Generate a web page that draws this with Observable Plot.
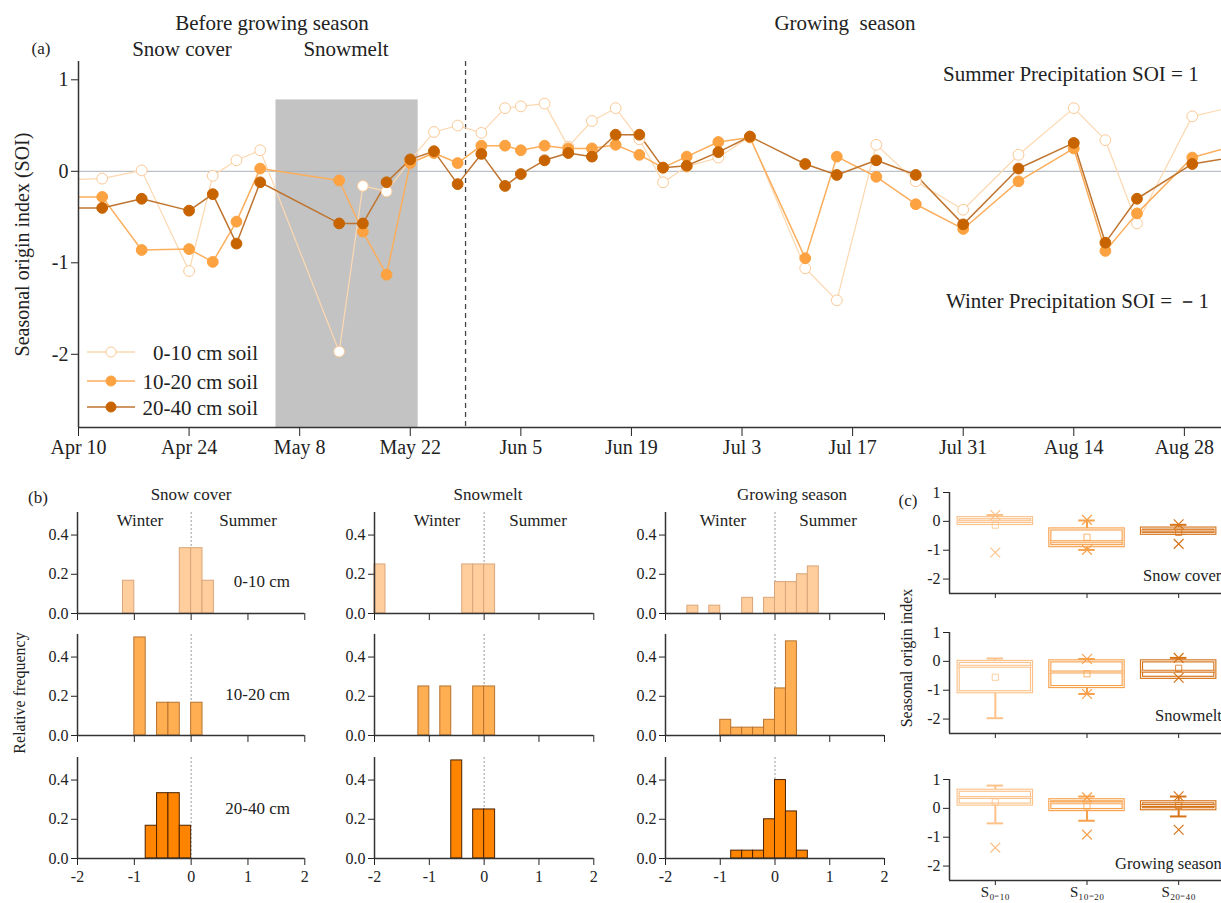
<!DOCTYPE html>
<html><head><meta charset="utf-8">
<script src="https://cdn.jsdelivr.net/npm/d3@7"></script>
<script src="https://cdn.jsdelivr.net/npm/@observablehq/plot@0.6"></script>
<style>
body{margin:0;background:#fff;}
#root{position:relative;width:1221px;height:903px;overflow:hidden;font-family:'Liberation Serif','Times New Roman',serif;color:#222;}
.t{position:absolute;white-space:pre;line-height:1;}
</style></head><body><div id="root"></div>
<script>
// ---------- DATA: panel (a) ----------
const sampleDates = ["2015-04-09","2015-04-13","2015-04-18","2015-04-24","2015-04-27","2015-04-30","2015-05-03","2015-05-13","2015-05-16","2015-05-19","2015-05-22","2015-05-25","2015-05-28","2015-05-31","2015-06-03","2015-06-05","2015-06-08","2015-06-11","2015-06-14","2015-06-17","2015-06-20","2015-06-23","2015-06-26","2015-06-30","2015-07-04","2015-07-11","2015-07-15","2015-07-20","2015-07-25","2015-07-31","2015-08-07","2015-08-14","2015-08-18","2015-08-22","2015-08-29","2015-09-03"];
const soi0_10  = [-0.09,-0.08,0.01,-1.09,-0.05,0.12,0.23,-1.97,-0.16,-0.22,0.12,0.43,0.50,0.42,0.69,0.71,0.74,0.27,0.55,0.69,0.35,-0.12,0.05,0.15,0.38,-1.06,-1.41,0.29,-0.11,-0.42,0.18,0.69,0.34,-0.57,0.60,0.70];
const soi10_20 = [-0.28,-0.28,-0.86,-0.85,-0.99,-0.55,0.03,-0.10,-0.66,-1.13,0.09,0.20,0.09,0.28,0.28,0.23,0.28,0.25,0.25,0.29,0.18,0.04,0.16,0.32,0.37,-0.95,0.16,-0.06,-0.36,-0.63,-0.11,0.25,-0.87,-0.46,0.15,0.27];
const soi20_40 = [-0.40,-0.40,-0.30,-0.43,-0.25,-0.79,-0.12,-0.57,-0.57,-0.12,0.13,0.22,-0.14,0.19,-0.16,-0.03,0.12,0.20,0.16,0.40,0.40,0.04,0.06,0.21,0.38,0.08,-0.04,0.12,-0.04,-0.58,0.03,0.31,-0.78,-0.30,0.08,0.15];
const seriesNames = ["0-10 cm soil","10-20 cm soil","20-40 cm soil"];
const xTickDates = ["2015-04-10","2015-04-24","2015-05-08","2015-05-22","2015-06-05","2015-06-19","2015-07-03","2015-07-17","2015-07-31","2015-08-14","2015-08-28"];
const yTicksA = [-2,-1,0,1];
const snowmeltPeriod = ["2015-05-05","2015-05-23"];
const snowmeltShadeTop = 0.78;
const growingStart = "2015-05-29";
const xDomainA = [new Date("2015-04-10"), new Date(Date.UTC(2015,3,10) + 144.7*864e5)];
const yDomainA = [-2.8, 1.2];

// ---------- DATA: panel (b) histograms (bin left edges, width 0.2) ----------
const binWidth = 0.2;
const scBins_0_10 = [-1.2,-0.2,0.0,0.2],            scFreq_0_10 = [0.167,0.333,0.333,0.167];
const scBins_10_20 = [-1.0,-0.6,-0.4,0.0],          scFreq_10_20 = [0.5,0.167,0.167,0.167];
const scBins_20_40 = [-0.8,-0.6,-0.4,-0.2],         scFreq_20_40 = [0.167,0.333,0.333,0.167];
const smBins_0_10 = [-2.0,-0.4,-0.2,0.0],           smFreq_0_10 = [0.25,0.25,0.25,0.25];
const smBins_10_20 = [-1.2,-0.8,-0.2,0.0],          smFreq_10_20 = [0.25,0.25,0.25,0.25];
const smBins_20_40 = [-0.6,-0.2,0.0],               smFreq_20_40 = [0.5,0.25,0.25];
const gsBins_0_10 = [-1.6,-1.2,-0.6,-0.2,0.0,0.2,0.4,0.6], gsFreq_0_10 = [0.04,0.04,0.08,0.08,0.16,0.16,0.20,0.24];
const gsBins_10_20 = [-1.0,-0.8,-0.6,-0.4,-0.2,0.0,0.2],   gsFreq_10_20 = [0.08,0.04,0.04,0.04,0.08,0.24,0.48];
const gsBins_20_40 = [-0.8,-0.6,-0.4,-0.2,0.0,0.2,0.4],    gsFreq_20_40 = [0.04,0.04,0.04,0.20,0.40,0.24,0.04];
const histTitles = ["Snow cover","Snowmelt","Growing season"];
const depthLabels = ["0-10 cm","10-20 cm","20-40 cm"];

// ---------- DATA: panel (c) box plots ----------
const boxGroups = ["S₀₋₁₀","S₁₀₋₂₀","S₂₀₋₄₀"];
const scQ1 = [-0.09,-0.86,-0.43], scQ3 = [0.11,-0.28,-0.25], scMed = [0.0,-0.71,-0.33], scLo = [-0.09,-0.99,-0.43], scHi = [0.22,0.03,-0.12], scMean = [-0.13,-0.55,-0.38];
const scXGroup = [0,0,1,1,2,2], scXVal = [-1.08,0.22,0.05,-0.99,-0.10,-0.78];
const smQ1 = [-1.07,-0.89,-0.57], smQ3 = [-0.02,0.0,0.0], smMed = [-0.17,-0.37,-0.34], smLo = [-1.97,-1.13,-0.57], smHi = [0.10,0.08,0.12], smMean = [-0.55,-0.43,-0.24];
const smXGroup = [1,1,2,2], smXVal = [0.08,-1.13,0.12,-0.57];
const gsQ1 = [0.13,-0.06,-0.03], gsQ3 = [0.61,0.28,0.21], gsMed = [0.38,0.19,0.10], gsLo = [-0.52,-0.43,-0.28], gsHi = [0.79,0.41,0.41], gsMean = [0.22,0.08,0.10];
const gsXGroup = [0,1,1,2,2], gsXVal = [-1.36,0.38,-0.91,0.42,-0.74];
const boxPanelNames = ["Snow cover","Snowmelt","Growing season"];

// ---------- STYLE ----------
const FONT = "'Liberation Serif','Times New Roman',serif";
const lineColors = ["#FDD8B0","#FBAE5C","#BF7530"];
const dotFill = ["#FFFFFF","#FCA241","#C86400"];
const dotStroke = ["#FBC996","#FCA241","#C86400"];
const histFill = ["#FFCE9C","#FFAE52","#FF8400"];
const histStroke = ["#D9A57A","#B8732E","#4A2200"];
const boxColors = ["#FCC28A","#F8A14C","#D6741A"];
const root = document.getElementById("root");

function place(el, left, top) {
  el.style.position = "absolute"; el.style.left = left + "px"; el.style.top = top + "px";
  root.appendChild(el);
}
function txt(s, x, y, size, anchor = "middle", rotate = false) {
  const d = document.createElement("div");
  d.className = "t"; d.textContent = s; d.style.fontSize = size + "px";
  d.style.left = x + "px"; d.style.top = y + "px";
  const tx = anchor === "middle" ? "-50%" : anchor === "end" ? "-100%" : "0";
  d.style.transform = `translate(${tx},-50%)` + (rotate ? " rotate(-90deg)" : "");
  root.appendChild(d);
}
const svgStyle = {fontFamily: FONT, color: "#222", background: "none", overflow: "visible"};

// ---------- PANEL (a) ----------
const allSeries = [soi0_10, soi10_20, soi20_40];
const rowsA = allSeries.map(vals => sampleDates.map((d, i) => ({date: new Date(d), v: vals[i]})));
const shade = [{x1: new Date(snowmeltPeriod[0]), x2: new Date(snowmeltPeriod[1])}];
const marksA = [
  Plot.rect(shade, {x1: "x1", x2: "x2", y1: yDomainA[0], y2: snowmeltShadeTop, fill: "#c3c3c3"}),
  Plot.ruleY([0], {stroke: "#aab0b8", strokeWidth: 1}),
  Plot.ruleX([new Date(growingStart)], {stroke: "#444", strokeDasharray: "5,4", strokeWidth: 1.3})
];
rowsA.forEach((rows, k) => {
  marksA.push(Plot.line(rows, {x: "date", y: "v", stroke: lineColors[k], strokeWidth: k === 0 ? 1.2 : 1.5, clip: true}));
});
rowsA.forEach((rows, k) => {
  marksA.push(Plot.dot(rows, {x: "date", y: "v", r: 5.4, fill: dotFill[k], stroke: dotStroke[k], strokeWidth: 1, clip: true}));
});
marksA.push(
  Plot.axisX({ticks: xTickDates.map(d => new Date(d)), tickFormat: d3.utcFormat("%b %-d"), tickSize: 9, tickPadding: 3, fontSize: 20, label: null}),
  Plot.axisY({ticks: yTicksA, tickFormat: d => String(d), tickSize: 7, tickPadding: 3, fontSize: 20,
    label: "Seasonal origin index (SOI)", labelAnchor: "center", labelOffset: 64, labelArrow: "none"}),
  Plot.ruleX([xDomainA[0]], {stroke: "#333", strokeWidth: 1.5}),
  Plot.ruleY([yDomainA[0]], {stroke: "#333", strokeWidth: 1.5})
);
const plotA = Plot.plot({
  width: 1221, height: 465, marginLeft: 78, marginRight: 0, marginTop: 61, marginBottom: 38,
  style: svgStyle,
  x: {type: "utc", domain: xDomainA},
  y: {domain: yDomainA},
  marks: marksA
});
place(plotA, 0, 0);

txt("Before growing season", 272, 23, 21);
txt("Growing  season", 845, 23, 21);
txt("(a)", 41, 48, 17);
txt("Snow cover", 182, 49, 21);
txt("Snowmelt", 346, 49, 21);
txt("Summer Precipitation SOI = 1", 943, 74, 21, "start");
txt("Winter Precipitation SOI = －1", 946, 301, 21, "start");

// legend
const legendY = [352, 381, 407];
seriesNames.forEach((name, k) => {
  const ns = "http://www.w3.org/2000/svg";
  const s = document.createElementNS(ns, "svg");
  s.setAttribute("width", 50); s.setAttribute("height", 14);
  const l = document.createElementNS(ns, "line");
  l.setAttribute("x1", 0); l.setAttribute("x2", 48); l.setAttribute("y1", 7); l.setAttribute("y2", 7);
  l.setAttribute("stroke", lineColors[k]); l.setAttribute("stroke-width", 1.5);
  const c = document.createElementNS(ns, "circle");
  c.setAttribute("cx", 24); c.setAttribute("cy", 7); c.setAttribute("r", 5);
  c.setAttribute("fill", dotFill[k]); c.setAttribute("stroke", dotStroke[k]);
  s.appendChild(l); s.appendChild(c);
  place(s, 87, legendY[k] - 7);
  txt(name, 258, legendY[k] + 1, 21, "end");
});

// ---------- PANEL (b) ----------
const colLeft = [76.7, 374, 665], colW = [227.3, 219.3, 219];
const rowTop = [511.7, 634, 756.7], histH = 101;
const histBins = [[scBins_0_10, scBins_10_20, scBins_20_40],[smBins_0_10, smBins_10_20, smBins_20_40],[gsBins_0_10, gsBins_10_20, gsBins_20_40]];
const histFreq = [[scFreq_0_10, scFreq_10_20, scFreq_20_40],[smFreq_0_10, smFreq_10_20, smFreq_20_40],[gsFreq_0_10, gsFreq_10_20, gsFreq_20_40]];
for (let col = 0; col < 3; col++) {
  for (let row = 0; row < 3; row++) {
    const bins = histBins[col][row].map((b, i) => ({x1: b, x2: b + binWidth, f: histFreq[col][row][i]}));
    const mL = 45, mR = 12, mT = 2, mB = 30;
    const p = Plot.plot({
      width: mL + colW[col] + mR, height: mT + histH + mB,
      marginLeft: mL, marginRight: mR, marginTop: mT, marginBottom: mB,
      style: svgStyle,
      x: {domain: [-2, 2]},
      y: {domain: [0, 0.515]},
      marks: [
        Plot.ruleX([0], {stroke: "#999", strokeDasharray: "2,2", strokeWidth: 1}),
        Plot.rectY(bins, {x1: "x1", x2: "x2", y1: 0, y2: "f", fill: histFill[row], stroke: histStroke[row], strokeWidth: 1}),
        Plot.axisY({ticks: [0, 0.2, 0.4], tickFormat: d3.format(".1f"), tickSize: 6, tickPadding: 3, fontSize: 16, label: null}),
        Plot.axisX({ticks: [-2, -1, 0, 1, 2], tickFormat: row === 2 ? (d => String(d)) : (() => ""), tickSize: 7, tickPadding: 5, fontSize: 16, label: null}),
        Plot.ruleY([0], {stroke: "#333", strokeWidth: 1.5}),
        Plot.ruleX([-2], {stroke: "#333", strokeWidth: 1.5})
      ]
    });
    place(p, colLeft[col] - mL, rowTop[row] - mT);
  }
}
txt("(b)", 38, 497, 17);
const histTitleX = [191, 488, 792];
histTitles.forEach((t, i) => txt(t, histTitleX[i], 494, 17));
const winterX = [140, 437, 723], summerX = [248, 538, 828];
for (let i = 0; i < 3; i++) { txt("Winter", winterX[i], 520, 17); txt("Summer", summerX[i], 520, 17); }
const depthY = [581, 694, 808];
depthLabels.forEach((t, i) => txt(t, 290, depthY[i], 17, "end"));
txt("Relative frequency", 20, 693, 16, "middle", true);

// ---------- PANEL (c) ----------
const boxTop = [491.7, 631.7, 779.3], boxH = 101;
const boxStats = [
  [scQ1, scQ3, scMed, scLo, scHi, scMean, scXGroup, scXVal],
  [smQ1, smQ3, smMed, smLo, smHi, smMean, smXGroup, smXVal],
  [gsQ1, gsQ3, gsMed, gsLo, gsHi, gsMean, gsXGroup, gsXVal]
];
boxStats.forEach(([q1, q3, med, lo, hi, mean, xg, xv], pi) => {
  const boxes = boxGroups.map((g, i) => ({i, q1: q1[i], q3: q3[i], med: med[i], lo: lo[i], hi: hi[i], mean: mean[i], c: boxColors[i]}));
  const crosses = xg.map((g, j) => ({i: g, v: xv[j], c: boxColors[g]}));
  const mL = 50, mT = 2, mB = 30;
  const p = Plot.plot({
    width: mL + 275, height: mT + boxH + mB,
    marginLeft: mL, marginRight: 0, marginTop: mT, marginBottom: mB,
    style: svgStyle,
    x: {domain: [-0.5, 2.5]},
    y: {domain: [-2.5, 1]},
    color: {type: "identity"},
    marks: [
      Plot.ruleX(boxes, {x: "i", y1: "q3", y2: "hi", stroke: "c", strokeWidth: 2}),
      Plot.ruleX(boxes, {x: "i", y1: "q1", y2: "lo", stroke: "c", strokeWidth: 2}),
      Plot.ruleY(boxes, {x1: d => d.i - 0.09, x2: d => d.i + 0.09, y: "hi", stroke: "c", strokeWidth: 2}),
      Plot.ruleY(boxes, {x1: d => d.i - 0.09, x2: d => d.i + 0.09, y: "lo", stroke: "c", strokeWidth: 2}),
      Plot.rect(boxes, {x1: d => d.i - 0.4, x2: d => d.i + 0.4, y1: "q1", y2: "q3", fill: "white", stroke: "c", strokeWidth: 3.2}),
      Plot.rect(boxes, {x1: d => d.i - 0.4, x2: d => d.i + 0.4, y1: "q1", y2: "q3", fill: "none", stroke: "white", strokeWidth: 0.9}),
      Plot.ruleY(boxes, {x1: d => d.i - 0.4, x2: d => d.i + 0.4, y: "med", stroke: "c", strokeWidth: 3}),
      Plot.ruleY(boxes, {x1: d => d.i - 0.4, x2: d => d.i + 0.4, y: "med", stroke: "white", strokeWidth: 0.8}),
      Plot.dot(boxes, {x: "i", y: "mean", symbol: "square", r: 3.5, stroke: "c", fill: "none", strokeWidth: 1, strokeOpacity: 0.8}),
      Plot.dot(crosses, {x: "i", y: "v", symbol: "times", r: 4.5, stroke: "c", strokeWidth: 1.2}),
      Plot.axisY({ticks: [-2, -1, 0, 1], tickFormat: d => String(d), tickSize: 6, tickPadding: 3, fontSize: 16, label: null}),
      Plot.axisX({ticks: [0, 1, 2], tickFormat: pi === 2 ? (d => boxGroups[d]) : (() => ""), tickSize: 5, tickPadding: 1, fontSize: 15, label: null}),
      Plot.ruleX([-0.5], {stroke: "#333", strokeWidth: 1.5}),
      Plot.ruleY([-2.5], {stroke: "#333", strokeWidth: 1.5})
    ]
  });
  place(p, 949 - mL, boxTop[pi] - mT);
});
txt("(c)", 908, 500, 17);
txt("Seasonal origin index", 907, 658, 16, "middle", true);
const boxLabelX = [1143, 1155, 1115], boxLabelY = [576, 716, 864];
boxPanelNames.forEach((t, i) => txt(t, boxLabelX[i], boxLabelY[i], 16.5, "start"));
</script></body></html>
